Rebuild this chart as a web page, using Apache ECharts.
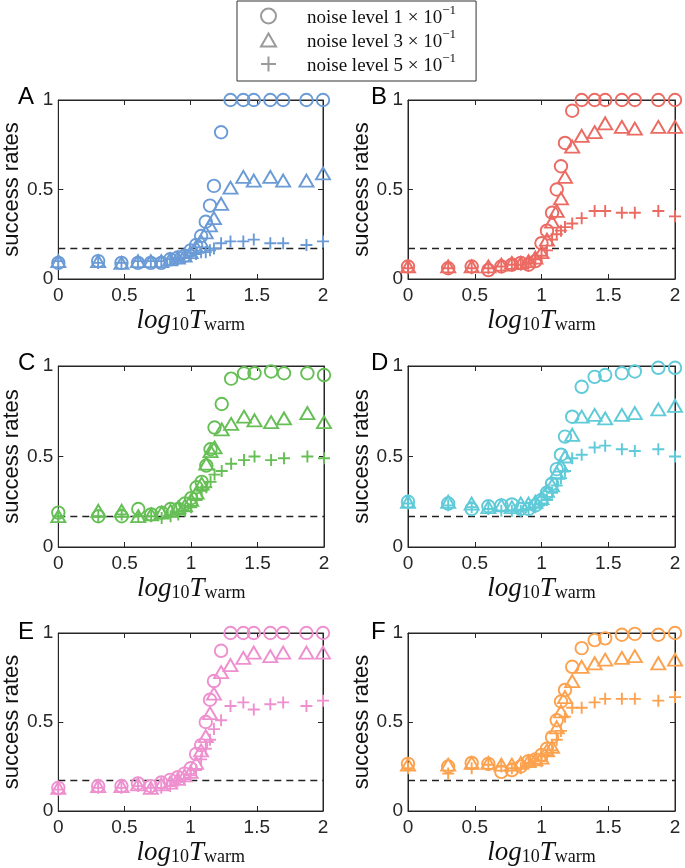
<!DOCTYPE html>
<html>
<head>
    <meta charset="utf-8">
    <title>success rates</title>
    <script src="https://cdn.jsdelivr.net/npm/echarts@6/dist/echarts.min.js"></script>
</head>
<body style="margin: 0; background: #fff">
<div id="main" style="width: 685px; height: 868px"></div>

<script type="text/javascript">
    // x positions: log10 of T_warm = 1,2,3,...,15,17,20,25,30,40,50,75,100
    var logT = [0, 0.301, 0.477, 0.602, 0.699, 0.778, 0.845, 0.903, 0.954, 1, 1.041, 1.079,
        1.114, 1.146, 1.176, 1.230, 1.301, 1.398, 1.477, 1.602, 1.699, 1.875, 2];

    var xTicks = [0, 0.5, 1, 1.5, 2];
    var yTicks = [0, 0.5, 1];
    var chanceLevel = 1 / 6;

    var panelNames = ['A', 'B', 'C', 'D', 'E', 'F'];
    var noiseLevels = ['1', '3', '5'];

    var aCircle = [0.09, 0.10, 0.09, 0.09, 0.09, 0.09, 0.11, 0.12, 0.13, 0.16, 0.19, 0.24, 0.32, 0.41, 0.52, 0.82, 1, 1, 1, 1, 1, 1, 1];
    var aTriangle = [0.10, 0.10, 0.09, 0.10, 0.10, 0.10, 0.11, 0.12, 0.13, 0.15, 0.18, 0.21, 0.26, 0.30, 0.34, 0.42, 0.51, 0.57, 0.55, 0.57, 0.55, 0.55, 0.59];
    var aPlus = [0.10, 0.09, 0.09, 0.10, 0.10, 0.10, 0.11, 0.11, 0.12, 0.13, 0.14, 0.15, 0.15, 0.16, 0.17, 0.20, 0.21, 0.21, 0.22, 0.20, 0.20, 0.19, 0.21];

    var bCircle = [0.07, 0.06, 0.07, 0.05, 0.07, 0.08, 0.09, 0.08, 0.10, 0.20, 0.27, 0.37, 0.50, 0.63, 0.76, 0.94, 1, 1, 1, 1, 1, 1, 1];
    var bTriangle = [0.07, 0.07, 0.07, 0.07, 0.08, 0.09, 0.09, 0.10, 0.12, 0.15, 0.22, 0.32, 0.38, 0.45, 0.57, 0.74, 0.80, 0.82, 0.87, 0.85, 0.84, 0.85, 0.85];
    var bPlus = [0.06, 0.06, 0.06, 0.06, 0.07, 0.08, 0.08, 0.09, 0.11, 0.13, 0.16, 0.22, 0.25, 0.27, 0.29, 0.31, 0.34, 0.38, 0.38, 0.37, 0.37, 0.38, 0.35];

    var cCircle = [0.19, 0.17, 0.17, 0.21, 0.18, 0.19, 0.21, 0.21, 0.24, 0.27, 0.33, 0.36, 0.45, 0.54, 0.66, 0.79, 0.93, 0.96, 0.96, 0.97, 0.96, 0.96, 0.95];
    var cTriangle = [0.17, 0.20, 0.20, 0.17, 0.18, 0.19, 0.20, 0.22, 0.23, 0.26, 0.30, 0.35, 0.46, 0.53, 0.55, 0.65, 0.68, 0.72, 0.70, 0.69, 0.71, 0.74, 0.69];
    var cPlus = [0.17, 0.17, 0.18, 0.17, 0.17, 0.16, 0.17, 0.18, 0.20, 0.22, 0.26, 0.31, 0.33, 0.36, 0.40, 0.42, 0.46, 0.48, 0.50, 0.48, 0.49, 0.50, 0.49];

    var dCircle = [0.25, 0.24, 0.21, 0.225, 0.23, 0.235, 0.21, 0.21, 0.23, 0.26, 0.30, 0.35, 0.43, 0.51, 0.61, 0.72, 0.885, 0.94, 0.95, 0.96, 0.97, 0.99, 0.99];
    var dTriangle = [0.25, 0.25, 0.24, 0.22, 0.23, 0.22, 0.24, 0.24, 0.25, 0.27, 0.31, 0.34, 0.41, 0.45, 0.50, 0.62, 0.72, 0.73, 0.71, 0.73, 0.74, 0.76, 0.78];
    var dPlus = [0.24, 0.23, 0.22, 0.21, 0.20, 0.20, 0.20, 0.21, 0.22, 0.24, 0.26, 0.30, 0.34, 0.38, 0.42, 0.49, 0.51, 0.55, 0.56, 0.54, 0.53, 0.54, 0.50];

    var eCircle = [0.13, 0.14, 0.14, 0.155, 0.14, 0.16, 0.175, 0.19, 0.21, 0.24, 0.32, 0.37, 0.50, 0.625, 0.73, 0.90, 1, 1, 1, 1, 1, 1, 1];
    var eTriangle = [0.13, 0.14, 0.14, 0.15, 0.13, 0.15, 0.16, 0.18, 0.20, 0.22, 0.27, 0.34, 0.42, 0.55, 0.66, 0.78, 0.82, 0.86, 0.89, 0.87, 0.89, 0.89, 0.89];
    var ePlus = [0.12, 0.13, 0.13, 0.14, 0.13, 0.13, 0.14, 0.17, 0.18, 0.20, 0.23, 0.29, 0.35, 0.40, 0.46, 0.51, 0.59, 0.61, 0.57, 0.60, 0.61, 0.59, 0.62];

    var fCircle = [0.265, 0.25, 0.27, 0.265, 0.22, 0.23, 0.25, 0.28, 0.29, 0.315, 0.35, 0.415, 0.51, 0.615, 0.68, 0.81, 0.915, 0.96, 0.97, 0.99, 0.995, 0.99, 1];
    var fTriangle = [0.26, 0.26, 0.27, 0.27, 0.26, 0.26, 0.27, 0.28, 0.29, 0.30, 0.34, 0.36, 0.47, 0.56, 0.64, 0.73, 0.81, 0.83, 0.85, 0.86, 0.87, 0.83, 0.85];
    var fPlus = [0.24, 0.21, 0.24, 0.26, 0.25, 0.24, 0.24, 0.27, 0.28, 0.28, 0.31, 0.34, 0.40, 0.45, 0.53, 0.58, 0.58, 0.61, 0.63, 0.63, 0.63, 0.62, 0.64];

    var panelData = [
        [aCircle, aTriangle, aPlus],
        [bCircle, bTriangle, bPlus],
        [cCircle, cTriangle, cPlus],
        [dCircle, dTriangle, dPlus],
        [eCircle, eTriangle, ePlus],
        [fCircle, fTriangle, fPlus]
    ];

    // styling / layout
    var colors = ['#6b9bd6', '#eb6b63', '#66bf55', '#5fcad8', '#ee90cf', '#fca24f'];
    var boxes = [
        [56, 100, 267, 179], [408, 100, 267, 179],
        [56, 366, 268, 181], [408, 366, 267, 181],
        [56, 633, 267, 178], [408, 633, 267, 178]
    ];
    var letterPos = [[18, 97], [371, 97], [18, 363], [371, 363], [18, 632], [371, 632]];
    var plusPath = 'path://M5,0L5,10M0,5L10,5';
    var triPath = 'path://M5,0L10,8.7L0,8.7Z';
    var symbols = ['circle', 'triangle', plusPath];
    var legendIcons = ['circle', triPath, plusPath];
    var symbolSizes = [12.5, [14, 12], 12];
    var axisColor = '#262626';
    var seriesNames = ['n1', 'n3', 'n5'];

    var xNameRich = {
        i: {fontFamily: 'Liberation Serif', fontStyle: 'italic', fontSize: 27, lineHeight: 32, verticalAlign: 'bottom', color: '#111'},
        s: {fontFamily: 'Liberation Serif', fontSize: 18, lineHeight: 18, verticalAlign: 'bottom', color: '#111'}
    };

    function frameAxis(grid, dim, pos, showLabel) {
        return {
            gridIndex: grid, type: 'value', position: pos,
            min: dim === 'x' ? xTicks[0] : yTicks[0],
            max: dim === 'x' ? xTicks[xTicks.length - 1] : yTicks[yTicks.length - 1],
            interval: 0.5,
            axisLine: {show: true, onZero: false, lineStyle: {color: axisColor, width: 1}},
            axisTick: {show: true, inside: true, length: 5, lineStyle: {color: axisColor, width: 1}},
            axisLabel: {show: showLabel, fontSize: 19, color: axisColor, fontFamily: 'Liberation Sans',
                margin: dim === 'x' ? 7 : 5},
            splitLine: {show: false}
        };
    }

    var myChart = echarts.init(document.getElementById('main'), null, {renderer: 'canvas'});

    var option = {
        backgroundColor: '#fff',
        animation: false,
        grid: [],
        xAxis: [],
        yAxis: [],
        series: [],
        graphic: [],
        legend: {
            orient: 'vertical',
            left: 237,
            top: 1,
            padding: [3, 20, 5, 23],
            itemGap: 0,
            itemWidth: 15,
            itemHeight: 15,
            borderColor: '#333',
            borderWidth: 1,
            selectedMode: false,
            data: seriesNames.map(function (n, k) {
                return {
                    name: n,
                    icon: legendIcons[k],
                    itemStyle: {color: 'rgba(0,0,0,0)', borderColor: '#9a9a9a', borderWidth: 2}
                };
            }),
            formatter: function (name) {
                var lvl = noiseLevels[seriesNames.indexOf(name)];
                return '{t|noise level ' + lvl + ' \u00d7 10}{p|\u22121}';
            },
            textStyle: {
                rich: {
                    t: {fontFamily: 'Liberation Serif', fontSize: 19, lineHeight: 24, verticalAlign: 'bottom',
                        color: '#111', padding: [0, 0, 0, 26]},
                    p: {fontFamily: 'Liberation Serif', fontSize: 13, lineHeight: 13, verticalAlign: 'top', color: '#111'}
                }
            }
        }
    };

    for (var i = 0; i < panelNames.length; i++) {
        var b = boxes[i];
        option.grid.push({
            left: b[0], top: b[1], width: b[2], height: b[3],
            show: true, borderColor: axisColor, borderWidth: 1, backgroundColor: 'rgba(0,0,0,0)'
        });

        var xb = frameAxis(i, 'x', 'bottom', true);
        xb.name = '{i|log}{s|10}{i|T}{s|warm}';
        xb.nameLocation = 'middle';
        xb.nameGap = 23;
        xb.nameTextStyle = {rich: xNameRich};
        option.xAxis.push(xb);
        option.xAxis.push(frameAxis(i, 'x', 'top', false));

        var yl = frameAxis(i, 'y', 'left', true);
        yl.name = 'success rates';
        yl.nameLocation = 'middle';
        yl.nameGap = 35;
        yl.nameTextStyle = {fontSize: 22, fontFamily: 'Liberation Sans', color: '#111'};
        option.yAxis.push(yl);
        option.yAxis.push(frameAxis(i, 'y', 'right', false));

        for (var s = 0; s < 3; s++) {
            var vals = panelData[i][s];
            var ser = {
                name: seriesNames[s],
                type: 'scatter',
                xAxisIndex: 2 * i,
                yAxisIndex: 2 * i,
                symbol: symbols[s],
                symbolSize: symbolSizes[s],
                clip: false,
                z: 3 + s,
                itemStyle: {color: 'rgba(0,0,0,0)', borderColor: colors[i], borderWidth: 1.9, opacity: 1},
                emphasis: {disabled: true},
                data: logT.map(function (x, k) { return [x, vals[k]]; })
            };
            if (s === 0) {
                ser.markLine = {
                    silent: true,
                    symbol: 'none',
                    label: {show: false},
                    lineStyle: {color: '#222', width: 1.3, type: [7, 5]},
                    data: [{yAxis: chanceLevel}],
                    z: 2
                };
            }
            option.series.push(ser);
        }

        option.graphic.push({
            type: 'text',
            style: {
                x: letterPos[i][0], y: letterPos[i][1],
                text: panelNames[i],
                font: '24px "Liberation Sans"',
                fill: '#000',
                verticalAlign: 'middle'
            }
        });
    }

    myChart.setOption(option, true);
</script>
</body>
</html>
